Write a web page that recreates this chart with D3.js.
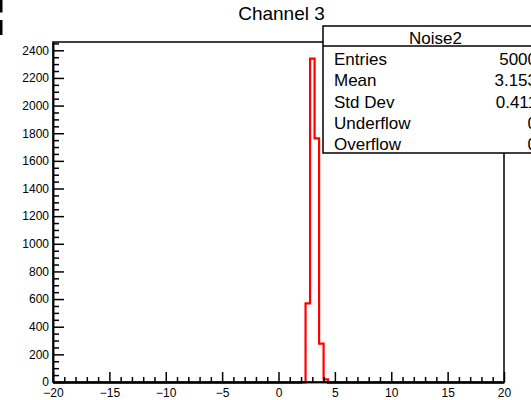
<!DOCTYPE html>
<html>
<head>
<meta charset="utf-8">
<script src="https://cdn.jsdelivr.net/npm/d3@7"></script>
<style>
  html, body { margin: 0; padding: 0; background: #fff; }
  svg { display: block; font-family: "Liberation Sans", Arial, Helvetica, sans-serif; }
</style>
</head>
<body>
<svg id="chart" width="531" height="400"></svg>
<script>
// Histogram "Noise2" (Channel 3): 100 bins of width 0.4 over [-20, 20]; only filled bins listed
const binLow = [2.0, 2.4, 2.8, 3.2, 3.6, 4.0];
const binCounts = [3, 575, 2345, 1768, 284, 25];
const binWidth = 0.4;
const xRange = [-20, 20];
const yMax = 2460;

// Axis ticks
const xMajorTicks = [-20, -15, -10, -5, 0, 5, 10, 15, 20];
const xMinorTicks = [-19, -18, -17, -16, -14, -13, -12, -11, -9, -8, -7, -6, -4, -3, -2, -1,
                     1, 2, 3, 4, 6, 7, 8, 9, 11, 12, 13, 14, 16, 17, 18, 19];
const yMajorTicks = [0, 200, 400, 600, 800, 1000, 1200, 1400, 1600, 1800, 2000, 2200, 2400];
const yMinorTicks = [50, 100, 150, 250, 300, 350, 450, 500, 550, 650, 700, 750, 850, 900, 950,
                     1050, 1100, 1150, 1250, 1300, 1350, 1450, 1500, 1550, 1650, 1700, 1750,
                     1850, 1900, 1950, 2050, 2100, 2150, 2250, 2300, 2350, 2450];

// Statistics box
const statsTitle = "Noise2";
const statsLabels = ["Entries", "Mean", "Std Dev", "Underflow", "Overflow"];
const statsValues = ["5000", "3.153", "0.411", "0", "0"];
const chartTitle = "Channel 3";

const svg = d3.select("#chart");
const frame = { left: 53, right: 504, top: 42, bottom: 382 };

const x = d3.scaleLinear().domain(xRange).range([frame.left, frame.right]);
const y = d3.scaleLinear().domain([0, yMax]).range([frame.bottom, frame.top]);

// Edge marks of the neighbouring pad at the top-left corner
svg.append("rect").attr("x", 0).attr("y", 0).attr("width", 2.5).attr("height", 12.5).attr("fill", "#000");
svg.append("rect").attr("x", 0).attr("y", 20).attr("width", 2.5).attr("height", 15).attr("fill", "#000");

// Step outline: baseline across the full range, then each filled bin
const steps = [[xRange[0], 0]];
binLow.forEach((lo, i) => {
  steps.push([lo, binCounts[i]]);
});
steps.push([binLow[binLow.length - 1] + binWidth, 0]);
steps.push([xRange[1], 0]);

const stepLine = d3.line()
  .x(d => x(d[0]))
  .y(d => y(d[1]))
  .curve(d3.curveStepAfter);

svg.append("path")
  .datum(steps)
  .attr("d", stepLine)
  .attr("fill", "none")
  .attr("stroke", "#ff0000")
  .attr("stroke-width", 2.2)
  .attr("transform", "translate(0,0.8)");

// Frame
svg.append("rect")
  .attr("x", frame.left).attr("y", frame.top)
  .attr("width", frame.right - frame.left).attr("height", frame.bottom - frame.top)
  .attr("fill", "none").attr("stroke", "#000").attr("stroke-width", 1.5);

// Y axis (ticks pointing into the frame)
const yAxisMajor = d3.axisLeft(y).tickValues(yMajorTicks).tickSize(-11).tickSizeOuter(0)
  .tickPadding(4).tickFormat(d3.format("d"));
const yAxisMinor = d3.axisLeft(y).tickValues(yMinorTicks).tickSize(-6).tickSizeOuter(0)
  .tickFormat("");

const gyMinor = svg.append("g").attr("transform", `translate(${frame.left},0)`).call(yAxisMinor);
const gy = svg.append("g").attr("transform", `translate(${frame.left},0)`).call(yAxisMajor);

// X axis
const xAxisMajor = d3.axisBottom(x).tickValues(xMajorTicks).tickSize(-10).tickSizeOuter(0)
  .tickPadding(6).tickFormat(d3.format("d"));
const xAxisMinor = d3.axisBottom(x).tickValues(xMinorTicks).tickSize(-5).tickSizeOuter(0)
  .tickFormat("");

const gxMinor = svg.append("g").attr("transform", `translate(0,${frame.bottom})`).call(xAxisMinor);
const gx = svg.append("g").attr("transform", `translate(0,${frame.bottom})`).call(xAxisMajor);

[gy, gyMinor, gx, gxMinor].forEach(g => {
  g.select(".domain").attr("stroke", "#000").attr("stroke-width", 1.5);
  g.selectAll(".tick line").attr("stroke", "#000").attr("stroke-width", 1.5);
  g.selectAll(".tick text")
    .attr("fill", "#000")
    .style("font-family", "'Liberation Sans', Arial, Helvetica, sans-serif")
    .style("font-size", "12px");
});

// Title
svg.append("text")
  .attr("x", 281.5).attr("y", 20)
  .attr("text-anchor", "middle")
  .style("font-size", "19px")
  .attr("fill", "#000")
  .text(chartTitle);

// Statistics box
const box = { x: 323, y: 26, w: 225, h: 127, header: 20 };
const gs = svg.append("g");
gs.append("rect")
  .attr("x", box.x).attr("y", box.y).attr("width", box.w).attr("height", box.h)
  .attr("fill", "#fff").attr("stroke", "#000").attr("stroke-width", 1.5);
gs.append("line")
  .attr("x1", box.x).attr("x2", box.x + box.w)
  .attr("y1", box.y + box.header).attr("y2", box.y + box.header)
  .attr("stroke", "#000").attr("stroke-width", 1.5);
gs.append("text")
  .attr("x", box.x + box.w / 2).attr("y", box.y + 18)
  .attr("text-anchor", "middle")
  .style("font-size", "17px")
  .text(statsTitle);

const rowY = d3.scaleLinear().domain([0, statsLabels.length - 1]).range([65, 150]);
statsLabels.forEach((lab, i) => {
  gs.append("text")
    .attr("x", 334).attr("y", rowY(i))
    .style("font-size", "17px")
    .text(lab);
  gs.append("text")
    .attr("x", 537).attr("y", rowY(i))
    .attr("text-anchor", "end")
    .style("font-size", "17px")
    .text(statsValues[i]);
});
</script>
</body>
</html>
